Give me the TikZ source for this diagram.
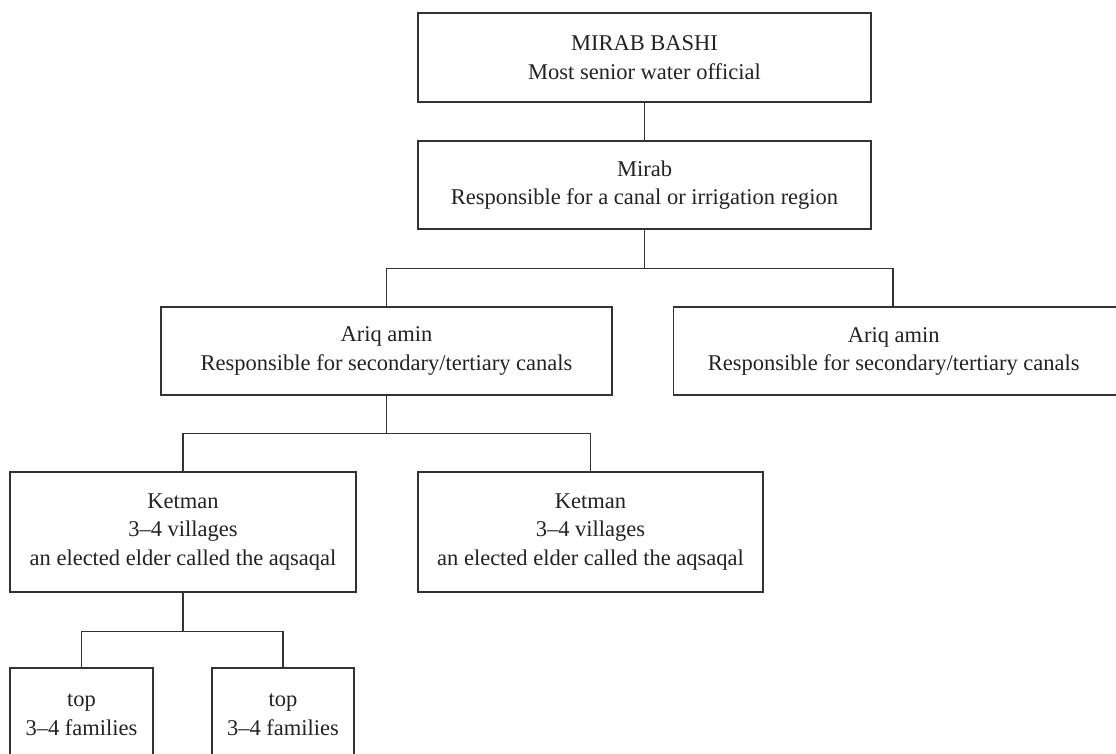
\documentclass[tikz,border=0pt]{standalone}
\usepackage{fontspec}
\setmainfont{Liberation Serif}
\definecolor{ln}{HTML}{333333}
\definecolor{tx}{HTML}{222222}
\begin{document}
\begin{tikzpicture}[x=1pt,y=-1pt,
  boxbase/.style={draw=ln, line width=1.4pt, inner sep=0pt, text=tx, font=\fontsize{22.5}{28.5}\selectfont},
  box/.style={boxbase, align=center},
  conn/.style={draw=ln, line width=1.4pt}]
\useasboundingbox (0,0) rectangle (1116,754);
\clip (0,0) rectangle (1116,754);

\node[box, minimum width=453pt, minimum height=89pt] (B1) at (644.5,57.5) {MIRAB BASHI\\Most senior water official};
\node[box, minimum width=453pt, minimum height=88pt] (B2) at (644.5,185) {Mirab\\Responsible for a canal or irrigation region};
\node[box, minimum width=451pt, minimum height=88pt] (A1) at (386.5,351) {Ariq amin\\Responsible for secondary/tertiary canals};
\node[boxbase, minimum width=451pt, minimum height=88pt, anchor=west] (A2) at (673,351) {\begin{tabular}{@{}c@{}}Ariq amin\\Responsible for secondary/tertiary canals\end{tabular}\hspace*{11pt}};
\node[box, minimum width=346pt, minimum height=120pt] (K1) at (183,532) {Ketman\\3–4 villages\\an elected elder called the aqsaqal};
\node[box, minimum width=345pt, minimum height=120pt] (K2) at (590.5,532) {Ketman\\3–4 villages\\an elected elder called the aqsaqal};
\node[box, minimum width=143pt, minimum height=94pt] (T1) at (81.5,715) {top\\3–4 families};
\node[box, minimum width=142pt, minimum height=94pt] (T2) at (283,715) {top\\3–4 families};

\coordinate (a2top) at (893,307);
\draw[conn] (B1.south) -- (B2.north);
\draw[conn] (B2.south) -- ++(0,39) coordinate (j1);
\draw[conn] (A1.north) -- (A1.north |- j1) -| (a2top);
\draw[conn] (A1.south) -- ++(0,38) coordinate (j2);
\draw[conn] (K1.north) -- (K1.north |- j2) -| (K2.north);
\draw[conn] (K1.south) -- ++(0,39) coordinate (j3);
\draw[conn] (T1.north) -- (T1.north |- j3) -| (T2.north);
\end{tikzpicture}
\end{document}
